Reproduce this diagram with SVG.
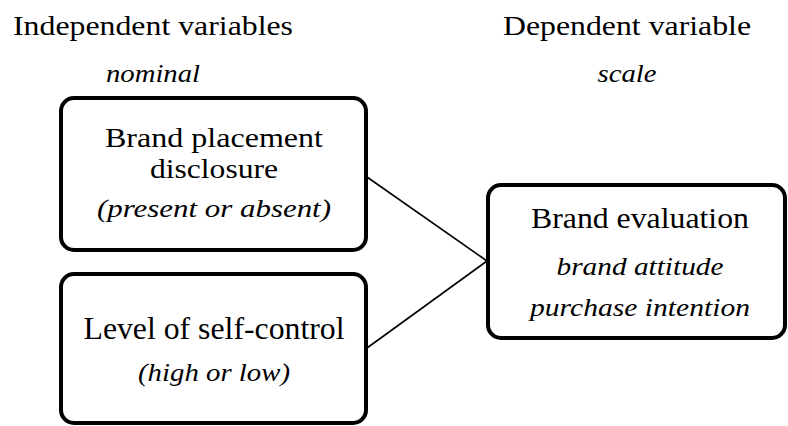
<svg xmlns="http://www.w3.org/2000/svg" width="788" height="426" viewBox="0 0 788 426">
<style>
.box{fill:#fff;stroke:#000;stroke-width:4}
.i{font-style:italic}
.conn{stroke:#000;stroke-width:1.6;fill:none}
</style>
<rect width="788" height="426" fill="#fff"/>
<g font-family="Liberation Serif, 'Times New Roman', serif" text-anchor="middle" fill="#000">
<g id="headers">
<text x="153" y="35" font-size="28" textLength="280" lengthAdjust="spacingAndGlyphs">Independent variables</text>
<text class="i" x="153" y="82" font-size="25" textLength="94" lengthAdjust="spacingAndGlyphs">nominal</text>
<text x="627" y="35" font-size="28" textLength="248" lengthAdjust="spacingAndGlyphs">Dependent variable</text>
<text class="i" x="627" y="82" font-size="25" textLength="59" lengthAdjust="spacingAndGlyphs">scale</text>
</g>
<g id="connectors">
<line class="conn" x1="367" y1="177" x2="487" y2="261"/>
<line class="conn" x1="367" y1="348" x2="487" y2="261"/>
</g>
<g id="node-disclosure">
<rect class="box" x="61" y="98" width="305" height="152" rx="13"/>
<text x="214" y="147" font-size="28" textLength="218" lengthAdjust="spacingAndGlyphs">Brand placement</text>
<text x="214" y="178" font-size="28" textLength="128" lengthAdjust="spacingAndGlyphs">disclosure</text>
<text class="i" x="214" y="217" font-size="25" textLength="234" lengthAdjust="spacingAndGlyphs">(present or absent)</text>
</g>
<g id="node-selfcontrol">
<rect class="box" x="61" y="274" width="305" height="149" rx="13"/>
<text x="214" y="339" font-size="31" textLength="261" lengthAdjust="spacingAndGlyphs">Level of self-control</text>
<text class="i" x="214" y="381" font-size="26" textLength="152" lengthAdjust="spacingAndGlyphs">(high or low)</text>
</g>
<g id="node-evaluation">
<rect class="box" x="488" y="185" width="297" height="153" rx="13"/>
<text x="640" y="228" font-size="29" textLength="218" lengthAdjust="spacingAndGlyphs">Brand evaluation</text>
<text class="i" x="640" y="275" font-size="26" textLength="167" lengthAdjust="spacingAndGlyphs">brand attitude</text>
<text class="i" x="640" y="316" font-size="26" textLength="220" lengthAdjust="spacingAndGlyphs">purchase intention</text>
</g>
</g>
</svg>
